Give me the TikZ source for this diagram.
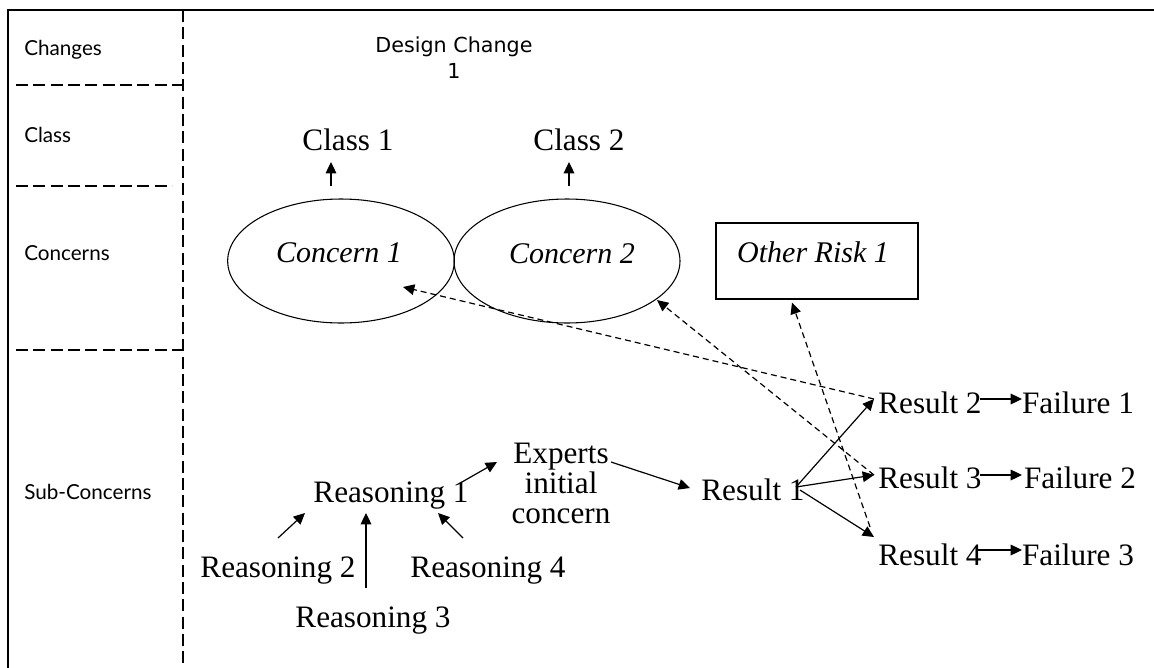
\documentclass[tikz,border=0pt]{standalone}
\usepackage{fontspec}
\setmainfont{Liberation Serif}
\newfontfamily\sidefont{Lato}
\newfontfamily\titlefont{DejaVu Sans}
\usetikzlibrary{arrows.meta,shapes.geometric,calc}

\begin{document}
\begin{tikzpicture}[x=0.75pt,y=0.75pt,yscale=-1,xscale=1,
  arr/.style={line width=0.9pt,-{Triangle[length=8.5pt,width=8pt]}},
  dasharr/.style={arr,dash pattern=on 4.5pt off 3pt},
  sep/.style={line width=0.9pt,dash pattern=on 9pt off 4pt},
  side/.style={anchor=base west,inner sep=0pt,font=\sidefont\fontsize{15.5}{18}\selectfont},
  txt/.style={anchor=base,inner sep=0pt,align=center,font=\fontsize{23.4}{22.5}\selectfont},
  itxt/.style={anchor=base,inner sep=0pt,font=\itshape\fontsize{22.5}{22.5}\selectfont},
  concern/.style={draw,ellipse,line width=0.8pt,minimum width=170pt,minimum height=93pt,inner sep=0pt}
]
\useasboundingbox (0,0) rectangle (1154,668);

%Frame and lanes
\draw[line width=1.4pt] (8,668) -- (8,10) -- (1154,10);
\draw[sep] (183,10) -- (183,668);
\draw[sep] (16,85) -- (183,85);
\draw[sep] (16,186) -- (172,186);
\draw[sep] (16,350) -- (183,350);

% Lane titles
\node[side] (chg) at (24,55) {Changes};
\node[side] (cls) at (24,142) {Class};
\node[side] (cnc) at (24,260) {Concerns};
\node[side] (sub) at (24,499) {Sub-Concerns};

% Design change (base = last line)
\node[anchor=base,inner sep=0pt,align=center,font=\titlefont\fontsize{15.5}{19.5}\selectfont] (dc) at (454,78) {Design Change\\1};

% Classes
\node[txt] (cl1) at (348,150) {Class 1};
\node[txt] (cl2) at (579,150) {Class 2};

% Concerns and other risk
\node[concern] (c1) at (341,261) {};
\node[concern,minimum width=169.5pt] (c2) at (567,261) {};
\node[draw,line width=0.8pt,minimum width=151.5pt,minimum height=57pt,inner sep=0pt] (risk) at (817,261) {};
\node[itxt] (c1t) at (339,262) {Concern 1};
\node[itxt] (c2t) at (572,263) {Concern 2};
\node[itxt] (riskt) at (813,262) {Other Risk 1};

% Reasoning chain
\node[txt] (r1) at (391,502) {Reasoning 1};
\node[txt] (r2) at (278,577) {Reasoning 2};
\node[txt] (r3) at (373,627) {Reasoning 3};
\node[txt] (r4) at (488,577) {Reasoning 4};
\node[txt] (exp) at (561,523) {Experts\\initial\\concern};

% Results and failures
\node[txt] (res1) at (753,500) {Result 1};
\node[txt] (res2) at (930,413) {Result 2};
\node[txt] (res3) at (930,488) {Result 3};
\node[txt] (res4) at (930,565) {Result 4};
\node[txt] (f1) at (1078,413) {Failure 1};
\node[txt] (f2) at (1080,488) {Failure 2};
\node[txt] (f3) at (1078,565) {Failure 3};

%Arrows up to the classes
\draw[arr] ($(c1.north)+(-10,-12)$) -- ($(cl1.base)+(-17,12)$);
\draw[arr] ($(c2.north)+(2,-12)$) -- ($(cl2.base)+(-10,12)$);

%Arrows into reasoning 1
\draw[arr] ($(r2.base)+(0,-39)$) -- ($(r1.base)+(-86,11)$);
\draw[arr] ($(r3.base)+(-7,-39)$) -- ($(r1.base)+(-25,11)$);
\draw[arr] ($(r4.base)+(-25,-39)$) -- ($(r1.base)+(47,11)$);
\draw[arr] ($(r1.base)+(71,-20)$) -- ($(exp.base)+(-64,-61)$);
\draw[arr] ($(exp.base)+(50,-61)$) -- ($(res1.base)+(-63,-12)$);

%Result branches
\draw[arr] ($(res1.base)+(43,-13)$) -- ($(res2.base)+(-56,-14)$);
\draw[arr] ($(res1.base)+(43,-13)$) -- ($(res3.base)+(-56,-13)$);
\draw[arr] ($(res1.base)+(47,-10)$) -- ($(res4.base)+(-56,-28)$);
\draw[arr] ($(res2.base)+(50,-14)$) -- ($(f1.base)+(-56,-14)$);
\draw[arr] ($(res3.base)+(50,-13)$) -- ($(f2.base)+(-58,-13)$);
\draw[arr] ($(res4.base)+(48,-15)$) -- ($(f3.base)+(-56,-15)$);

%Dashed links back to the concerns
\draw[dasharr] ($(res2.base)+(-56,-14)$) -- ($(c1.center)+(62,26)$);
\draw[dasharr] ($(res3.base)+(-56,-13)$) -- ($(c2.center)+(90,39)$);
\draw[dasharr] ($(res4.base)+(-60,-38)$) -- ($(risk.south)+(-25,3)$);

\end{tikzpicture}
\end{document}
